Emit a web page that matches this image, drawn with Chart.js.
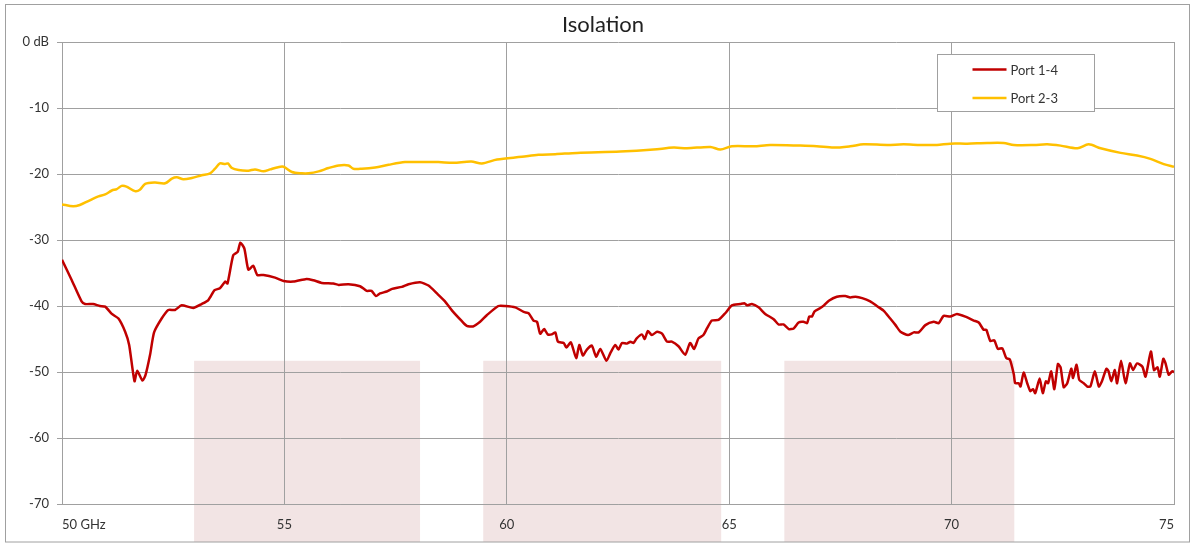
<!DOCTYPE html>
<html lang="en">
<head>
<meta charset="UTF-8">
<title>Isolation</title>
<script src="https://cdn.jsdelivr.net/npm/chart.js@4.4.0/dist/chart.umd.min.js"></script>
<style>
    body { margin: 0; background: #fff; }
    .wrap { position: relative; width: 1196px; height: 544px; }
</style>
</head>
<body>
<div class="wrap"><canvas id="isoChart"></canvas></div>
<script>
// Port 1-4 (red) - frequency in GHz, isolation in dB
const redFreq = [
    50.00, 50.22, 50.44, 50.52, 50.70, 50.85, 50.97, 51.12, 51.27, 51.42, 51.51, 51.63, 51.69, 51.81, 51.88, 51.98,
    52.07, 52.24, 52.39, 52.54, 52.69, 52.95, 53.14, 53.29, 53.43, 53.55, 53.67, 53.72, 53.85, 53.95, 54.01, 54.10,
    54.19, 54.30, 54.39, 54.53, 54.79, 54.98, 55.20, 55.50, 55.65, 55.84, 56.10, 56.22, 56.44, 56.70, 56.85, 56.96,
    57.06, 57.15, 57.30, 57.42, 57.64, 57.79, 58.05, 58.24, 58.43, 58.61, 58.77, 58.99, 59.10, 59.24, 59.40, 59.55,
    59.81, 59.96, 60.19, 60.38, 60.49, 60.60, 60.68, 60.75, 60.84, 60.92, 61.01, 61.09, 61.15, 61.28, 61.34, 61.44,
    61.56, 61.63, 61.71, 61.80, 61.91, 62.01, 62.10, 62.24, 62.33, 62.44, 62.51, 62.59, 62.70, 62.78, 62.85, 62.92,
    63.04, 63.10, 63.17, 63.26, 63.38, 63.49, 63.60, 63.71, 63.86, 64.01, 64.12, 64.21, 64.31, 64.42, 64.50, 64.61,
    64.76, 64.91, 65.06, 65.25, 65.35, 65.40, 65.51, 65.66, 65.81, 66.00, 66.11, 66.22, 66.34, 66.45, 66.56, 66.67,
    66.75, 66.80, 66.86, 66.92, 67.05, 67.13, 67.24, 67.42, 67.61, 67.72, 67.84, 67.99, 68.17, 68.32, 68.47, 68.62,
    68.74, 68.85, 69.02, 69.15, 69.26, 69.41, 69.60, 69.71, 69.82, 69.97, 70.12, 70.31, 70.50, 70.61, 70.72, 70.78,
    70.87, 70.96, 71.04, 71.14, 71.23, 71.31, 71.40, 71.43, 71.51, 71.55, 71.62, 71.70, 71.77, 71.83, 71.88, 71.98,
    72.05, 72.12, 72.17, 72.24, 72.31, 72.39, 72.45, 72.52, 72.60, 72.69, 72.73, 72.81, 72.87, 72.97, 73.05, 73.12,
    73.22, 73.31, 73.38, 73.48, 73.53, 73.59, 73.67, 73.72, 73.81, 73.91, 74.01, 74.08, 74.17, 74.29, 74.36, 74.48,
    74.55, 74.63, 74.68, 74.76, 74.81, 74.88, 74.96, 75.00
];
const port14 = [
    -33.0, -36.1, -39.3, -39.7, -39.7, -40.0, -40.1, -41.2, -41.9, -43.9, -45.9, -51.4, -49.8, -51.3, -50.4, -47.4,
    -44.0, -41.9, -40.6, -40.6, -39.9, -40.3, -39.7, -39.1, -37.6, -37.3, -36.3, -36.6, -32.3, -31.8, -30.4, -31.3,
    -34.5, -33.9, -35.3, -35.3, -35.7, -36.2, -36.3, -35.9, -36.1, -36.5, -36.6, -36.8, -36.7, -37.0, -37.7, -37.7,
    -38.5, -38.1, -37.8, -37.4, -37.1, -36.7, -36.4, -36.9, -38.1, -39.3, -40.7, -42.3, -43.0, -43.1, -42.4, -41.4,
    -40.0, -40.0, -40.2, -40.9, -41.1, -42.2, -42.4, -44.2, -43.5, -44.3, -44.3, -44.0, -45.4, -45.6, -46.3, -45.5,
    -47.9, -45.9, -47.5, -46.6, -46.0, -47.7, -46.5, -48.3, -47.1, -45.9, -46.6, -45.6, -45.7, -45.4, -45.6, -44.9,
    -44.3, -45.0, -43.8, -44.4, -43.9, -44.2, -45.4, -45.4, -46.1, -47.4, -45.6, -46.5, -44.9, -44.4, -43.4, -42.2,
    -42.1, -41.1, -39.9, -39.7, -39.6, -39.9, -39.7, -40.2, -41.2, -42.0, -42.8, -42.8, -43.5, -43.4, -42.5, -42.4,
    -42.6, -41.6, -41.6, -40.8, -40.3, -39.9, -39.2, -38.6, -38.5, -38.7, -38.6, -38.8, -39.3, -40.0, -40.7, -41.9,
    -42.9, -43.9, -44.4, -44.0, -44.0, -42.9, -42.4, -42.6, -41.5, -41.6, -41.2, -41.6, -42.2, -42.5, -43.6, -43.6,
    -45.3, -45.2, -46.5, -46.4, -47.9, -48.1, -50.4, -51.7, -51.7, -52.2, -50.1, -51.7, -52.9, -52.6, -53.2, -51.0,
    -53.2, -51.4, -51.7, -49.9, -52.6, -48.8, -49.3, -52.3, -51.7, -49.5, -50.9, -48.9, -51.2, -51.7, -52.2, -52.2,
    -49.9, -52.2, -51.4, -49.5, -49.9, -51.4, -49.7, -51.7, -48.3, -51.7, -48.7, -49.7, -48.7, -49.2, -50.7, -46.9,
    -49.7, -49.3, -50.7, -48.0, -48.7, -50.4, -49.9, -50.0
];

// Port 2-3 (yellow)
const yellowFreq = [
    50.00, 50.25, 50.40, 50.59, 50.82, 50.97, 51.12, 51.23, 51.34, 51.45, 51.64, 51.75, 51.87, 52.09, 52.32, 52.47,
    52.58, 52.73, 52.92, 53.14, 53.33, 53.44, 53.55, 53.67, 53.73, 53.82, 53.97, 54.19, 54.34, 54.53, 54.68, 54.83,
    54.98, 55.17, 55.39, 55.54, 55.77, 55.99, 56.22, 56.44, 56.55, 56.74, 57.04, 57.34, 57.71, 58.09, 58.46, 58.80,
    59.20, 59.44, 59.78, 60.34, 60.71, 61.09, 61.58, 62.55, 63.30, 63.75, 64.05, 64.58, 64.80, 65.06, 65.55, 65.92,
    66.60, 66.97, 67.35, 67.72, 68.02, 68.55, 68.92, 69.30, 69.67, 69.97, 70.35, 70.80, 71.17, 71.40, 71.85, 72.15,
    72.45, 72.83, 73.08, 73.35, 73.80, 74.17, 74.47, 74.77, 75.00
];
const port23 = [
    -24.6, -24.9, -24.7, -24.1, -23.4, -23.1, -22.5, -22.3, -21.8, -21.9, -22.6, -22.4, -21.5, -21.3, -21.4, -20.7,
    -20.5, -20.8, -20.6, -20.2, -19.9, -19.2, -18.4, -18.5, -18.4, -19.1, -19.4, -19.5, -19.3, -19.6, -19.3, -19.0,
    -18.9, -19.7, -19.9, -19.9, -19.6, -19.1, -18.7, -18.7, -19.2, -19.2, -19.0, -18.6, -18.2, -18.2, -18.2, -18.3,
    -18.1, -18.4, -17.8, -17.4, -17.1, -17.0, -16.8, -16.6, -16.3, -16.0, -16.1, -15.9, -16.3, -15.8, -15.8, -15.6,
    -15.7, -15.8, -16.0, -15.8, -15.5, -15.6, -15.5, -15.6, -15.6, -15.4, -15.4, -15.3, -15.3, -15.6, -15.6, -15.5,
    -15.7, -16.1, -15.5, -16.1, -16.8, -17.2, -17.7, -18.5, -18.9
];

// shaded frequency bands (GHz) and their upper level (dB)
const bandStart = [52.97, 59.47, 66.24];
const bandEnd = [58.05, 64.82, 71.41];
const bandTop = -48.3;

const yTicks = [0, -10, -20, -30, -40, -50, -60, -70];
const xTicks = [50, 55, 60, 65, 70, 75];

Chart.defaults.font.family = 'Lato, "Open Sans", sans-serif';
Chart.defaults.color = '#333';

// pink bands, drawn under the grid
const bandsPlugin = {
    id: 'bands',
    beforeDraw(chart) {
        const { ctx, scales: { x, y } } = chart;
        const top = y.getPixelForValue(bandTop);
        const bottom = chart.height - 2;
        ctx.save();
        ctx.fillStyle = '#f2e4e4';
        bandStart.forEach((s, i) => {
            const l = x.getPixelForValue(s);
            const r = x.getPixelForValue(bandEnd[i]);
            ctx.fillRect(l, top, r - l, bottom - top);
        });
        ctx.restore();
    }
};

// title, legend box and outer frame
const framePlugin = {
    id: 'frame',
    afterDraw(chart) {
        const { ctx, chartArea } = chart;
        ctx.save();
        ctx.strokeStyle = '#a0a0a0';
        ctx.lineWidth = 1;
        ctx.strokeRect(5.5, 4.5, chart.width - 12, chart.height - 6.5);

        ctx.fillStyle = '#222';
        ctx.font = '22px Lato, sans-serif';
        ctx.textAlign = 'center';
        ctx.textBaseline = 'middle';
        ctx.fillText('Isolation', chart.width / 2 + 5, 25);

        // legend
        const lx = chartArea.right - 236.5, ly = chartArea.top + 12.5;
        ctx.fillStyle = '#fff';
        ctx.fillRect(lx, ly, 157, 57);
        ctx.strokeRect(lx, ly, 157, 57);
        ctx.font = '13px Lato, sans-serif';
        ctx.textAlign = 'left';
        chart.data.datasets.forEach((ds, i) => {
            const yy = ly + 15 + i * 28.5;
            ctx.strokeStyle = ds.borderColor;
            ctx.lineWidth = 2.5;
            ctx.beginPath();
            ctx.moveTo(lx + 35, yy);
            ctx.lineTo(lx + 69, yy);
            ctx.stroke();
            ctx.fillStyle = '#333';
            ctx.fillText(ds.label, lx + 73, yy + 1);
        });
        ctx.restore();
    }
};

const ctx = document.getElementById('isoChart').getContext('2d');
new Chart(ctx, {
    type: 'line',
    data: {
        datasets: [
            {
                label: 'Port 1-4',
                data: redFreq.map((f, i) => ({ x: f, y: port14[i] })),
                borderColor: '#c00000',
                borderWidth: 2.5,
                pointRadius: 0,
                tension: 0.2,
                borderJoinStyle: 'round'
            },
            {
                label: 'Port 2-3',
                data: yellowFreq.map((f, i) => ({ x: f, y: port23[i] })),
                borderColor: '#ffc000',
                borderWidth: 2.5,
                pointRadius: 0,
                tension: 0.3,
                borderJoinStyle: 'round'
            }
        ]
    },
    options: {
        responsive: true,
        maintainAspectRatio: false,
        animation: false,
        layout: { padding: { top: 42, right: 22, left: 0, bottom: 0 } },
        plugins: {
            legend: { display: false },
            tooltip: { enabled: false }
        },
        scales: {
            x: {
                type: 'linear',
                min: xTicks[0],
                max: xTicks[xTicks.length - 1],
                afterBuildTicks: s => { s.ticks = xTicks.map(v => ({ value: v })); },
                ticks: {
                    padding: 13,
                    maxRotation: 0,
                    align: 'inner',
                    font: { size: 13 },
                    callback: v => v === 50 ? '50 GHz' : v
                },
                grid: { color: '#a0a0a0', drawTicks: false },
                border: { color: '#a0a0a0' },
                afterFit: s => { s.height = 40; }
            },
            y: {
                min: yTicks[yTicks.length - 1],
                max: yTicks[0],
                afterBuildTicks: s => { s.ticks = yTicks.map(v => ({ value: v })); },
                ticks: {
                    padding: 8,
                    font: { size: 13 },
                    callback: v => v === 0 ? '0 dB' : v
                },
                grid: { color: '#a0a0a0', tickLength: 5 },
                border: { color: '#a0a0a0' },
                afterFit: s => { s.width = 62; }
            }
        }
    },
    plugins: [bandsPlugin, framePlugin]
});
</script>
</body>
</html>
